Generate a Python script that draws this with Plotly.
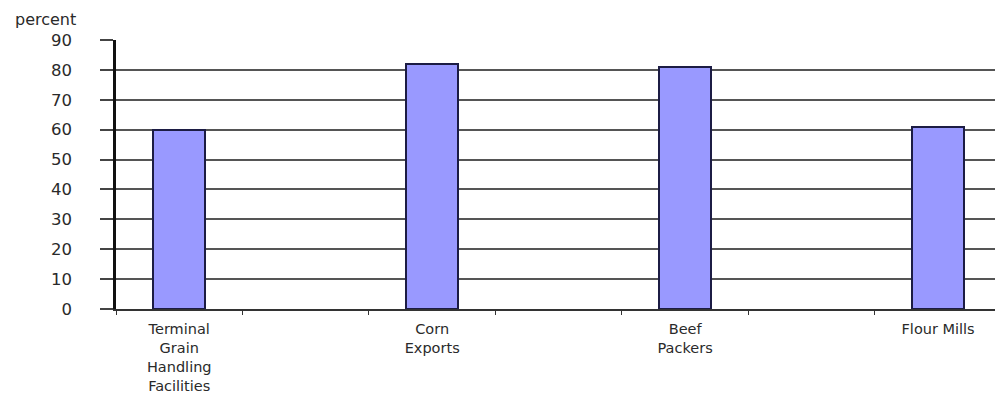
import plotly.graph_objects as go

categories = ["Terminal<br>Grain<br>Handling<br>Facilities", "Corn<br>Exports", "Beef<br>Packers", "Flour Mills"]
values = [60, 82, 81, 61]
y_ticks = [0, 10, 20, 30, 40, 50, 60, 70, 80, 90]

# each category sits in every other slot
positions = [i * 2 for i in range(len(categories))]
n_slots = len(categories) * 2
slot_edges = [k - 0.5 for k in range(n_slots + 1)]

FONT = "DejaVu Sans"
TXT = "#2a2a2a"

fig = go.Figure()
fig.add_trace(go.Bar(
    x=positions, y=values, width=0.41,
    marker=dict(color="#9999FF", line=dict(color="#1c1c44", width=2)),
    hoverinfo="skip",
))

fig.update_layout(
    width=995, height=396,
    margin=dict(l=116, r=0, t=40, b=87),
    paper_bgcolor="white", plot_bgcolor="white",
    showlegend=False,
    font=dict(family=FONT, size=15, color=TXT),
    bargap=0,
)
fig.update_xaxes(
    range=[-0.5, 6.45],
    tickmode="array", tickvals=positions, ticktext=categories,
    ticks="outside", ticklen=6, tickcolor="rgba(0,0,0,0)",
    showline=True, linecolor="#333", linewidth=2,
    showgrid=False, zeroline=False,
    tickfont=dict(family=FONT, size=14.5, color=TXT),
    minor=dict(tickmode="array", tickvals=slot_edges, ticks="outside",
               ticklen=4, tickcolor="#333", tickwidth=1, showgrid=False),
)
fig.update_yaxes(
    range=[0, 90],
    tickmode="array", tickvals=y_ticks, ticktext=[str(v) for v in y_ticks],
    ticks="outside", ticklen=13, tickcolor="#444", tickwidth=1.5,
    ticklabelstandoff=25,
    showline=True, linecolor="#111", linewidth=2.5,
    showgrid=True, gridcolor="#555", gridwidth=1.5,
    zeroline=False,
    tickfont=dict(family=FONT, size=16.5, color=TXT),
)
fig.add_annotation(
    text="percent", xref="paper", yref="paper",
    x=-103/879, y=1 + 21/269, xanchor="left", yanchor="middle",
    showarrow=False, font=dict(family=FONT, size=16, color=TXT),
)
fig.write_html("out.html")
